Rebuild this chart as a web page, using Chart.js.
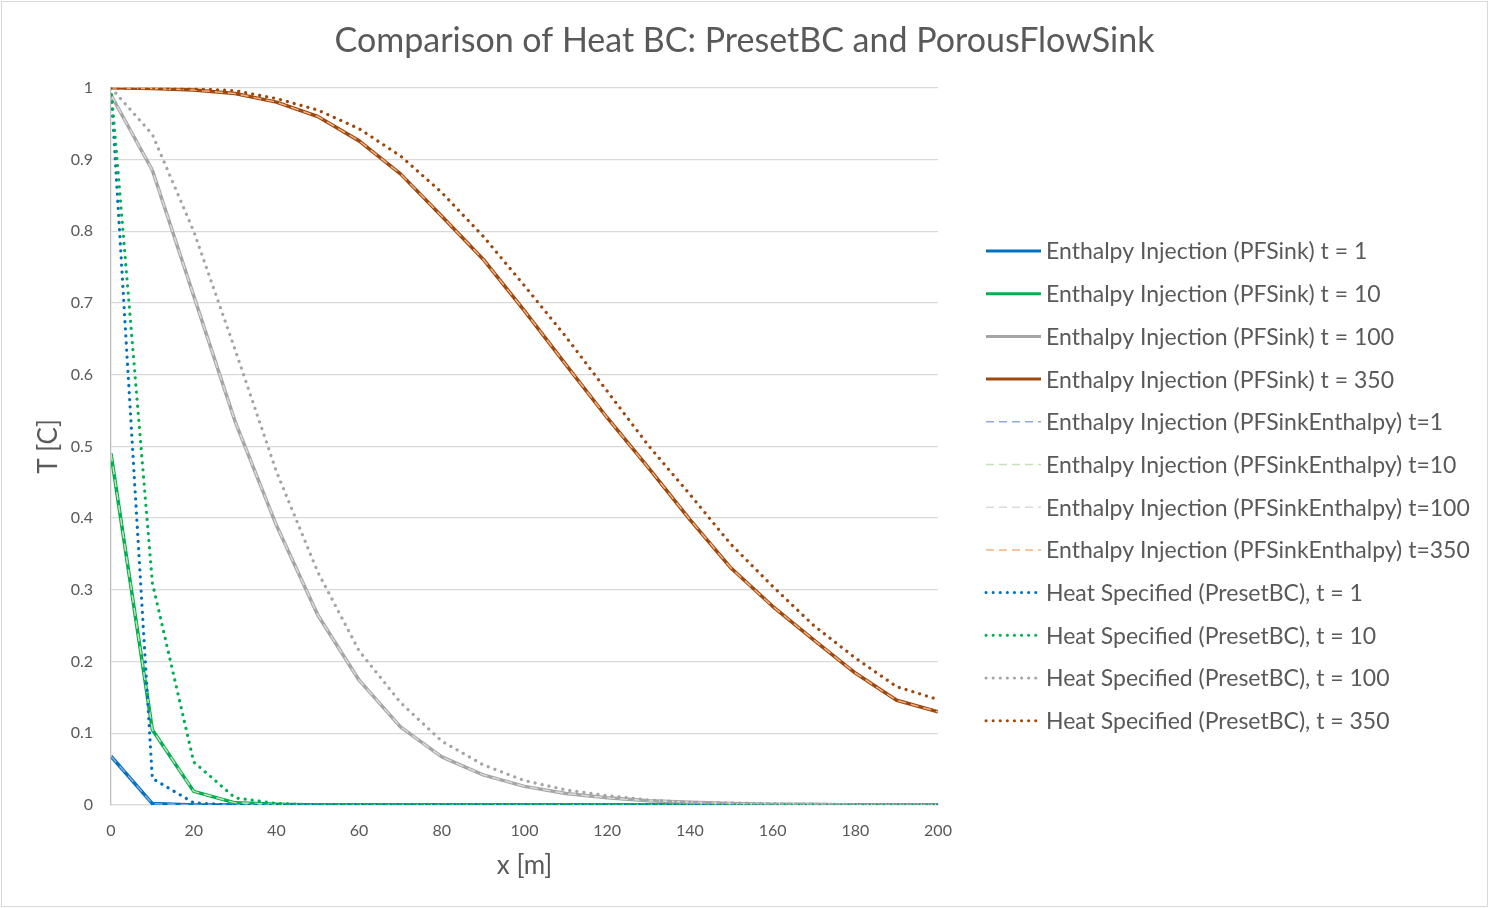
<!DOCTYPE html>
<html>
<head>
<meta charset="utf-8">
<title>Comparison of Heat BC</title>
<script src="https://cdn.jsdelivr.net/npm/chart.js@4.4.0/dist/chart.umd.min.js"></script>
<style>
  html, body { margin: 0; padding: 0; background: #ffffff; }
  #wrap { width: 1489px; height: 908px; }
</style>
</head>
<body>
<div id="wrap"><canvas id="heatChart" width="1489" height="908"></canvas></div>
<script>
"use strict";

// x positions along the column [m]
const xValues = [0, 10, 20, 30, 40, 50, 60, 70, 80, 90, 100, 110, 120, 130, 140, 150, 160, 170, 180, 190, 200];

// Enthalpy injection, PorousFlowSink
const pfSink1   = [0.068, 0.002, 0, 0, 0, 0, 0, 0, 0, 0, 0, 0, 0, 0, 0, 0, 0, 0, 0, 0, 0];
const pfSink10  = [0.49, 0.105, 0.019, 0.003, 0.001, 0, 0, 0, 0, 0, 0, 0, 0, 0, 0, 0, 0, 0, 0, 0, 0];
const pfSink100 = [0.99, 0.885, 0.71, 0.535, 0.39, 0.265, 0.174, 0.109, 0.067, 0.042, 0.026, 0.016, 0.01, 0.006, 0.004, 0.002, 0.001, 0.001, 0, 0, 0];
const pfSink350 = [1, 0.999, 0.997, 0.992, 0.98, 0.96, 0.926, 0.88, 0.821, 0.761, 0.689, 0.614, 0.54, 0.47, 0.398, 0.33, 0.277, 0.23, 0.184, 0.146, 0.13];

// Enthalpy injection, PFSinkEnthalpy (lies on top of the PFSink curves)
const pfEnth1   = [0.068, 0.002, 0, 0, 0, 0, 0, 0, 0, 0, 0, 0, 0, 0, 0, 0, 0, 0, 0, 0, 0];
const pfEnth10  = [0.49, 0.105, 0.019, 0.003, 0.001, 0, 0, 0, 0, 0, 0, 0, 0, 0, 0, 0, 0, 0, 0, 0, 0];
const pfEnth100 = [0.99, 0.885, 0.71, 0.535, 0.39, 0.265, 0.174, 0.109, 0.067, 0.042, 0.026, 0.016, 0.01, 0.006, 0.004, 0.002, 0.001, 0.001, 0, 0, 0];
const pfEnth350 = [1, 0.999, 0.997, 0.992, 0.98, 0.96, 0.926, 0.88, 0.821, 0.761, 0.689, 0.614, 0.54, 0.47, 0.398, 0.33, 0.277, 0.23, 0.184, 0.146, 0.13];

// Heat specified, PresetBC
const preset1   = [1, 0.037, 0.003, 0, 0, 0, 0, 0, 0, 0, 0, 0, 0, 0, 0, 0, 0, 0, 0, 0, 0];
const preset10  = [1, 0.31, 0.06, 0.01, 0.002, 0, 0, 0, 0, 0, 0, 0, 0, 0, 0, 0, 0, 0, 0, 0, 0];
const preset100 = [1, 0.935, 0.8, 0.635, 0.465, 0.325, 0.215, 0.143, 0.089, 0.056, 0.034, 0.021, 0.013, 0.007, 0.004, 0.003, 0.002, 0.001, 0, 0, 0];
const preset350 = [1, 1, 0.999, 0.996, 0.985, 0.969, 0.943, 0.905, 0.854, 0.793, 0.724, 0.653, 0.577, 0.501, 0.433, 0.363, 0.305, 0.25, 0.205, 0.165, 0.147];

const seriesLabels = [
  "Enthalpy Injection (PFSink) t = 1",
  "Enthalpy Injection (PFSink) t = 10",
  "Enthalpy Injection (PFSink) t = 100",
  "Enthalpy Injection (PFSink) t = 350",
  "Enthalpy Injection (PFSinkEnthalpy) t=1",
  "Enthalpy Injection (PFSinkEnthalpy) t=10",
  "Enthalpy Injection (PFSinkEnthalpy) t=100",
  "Enthalpy Injection (PFSinkEnthalpy) t=350",
  "Heat Specified (PresetBC), t = 1",
  "Heat Specified (PresetBC), t = 10",
  "Heat Specified (PresetBC), t = 100",
  "Heat Specified (PresetBC), t = 350"
];
const seriesValues = [pfSink1, pfSink10, pfSink100, pfSink350,
                      pfEnth1, pfEnth10, pfEnth100, pfEnth350,
                      preset1, preset10, preset100, preset350];

const xTickStep = 20;
const yTickStep = 0.1;

// Colours and line styles
const FONT = "Lato, 'Noto Sans', sans-serif";
const TEXT_GREY = "#595959";
const solidColours  = ["#0070C0", "#00B050", "#A5A5A5", "#9E480E"];
const dashedColours = ["#8FAADC", "#C5E0B4", "#DBDBDB", "#F4B183"];
const dottedColours = ["#0070C0", "#00B050", "#A5A5A5", "#9E480E"];

function makeStyle(i) {
  const group = Math.floor(i / 4);
  const k = i % 4;
  if (group === 0) {
    return { borderColor: solidColours[k], borderWidth: 3.5, borderDash: [], borderCapStyle: "butt" };
  }
  if (group === 1) {
    return { borderColor: dashedColours[k], borderWidth: 1.5, borderDash: [8, 5], borderCapStyle: "butt" };
  }
  return { borderColor: dottedColours[k], borderWidth: 3.2, borderDash: [0.1, 7], borderCapStyle: "round" };
}

const datasets = seriesValues.map(function (vals, i) {
  const st = makeStyle(i);
  return {
    label: seriesLabels[i],
    data: xValues.map(function (x, j) { return { x: x, y: vals[j] }; }),
    borderColor: st.borderColor,
    backgroundColor: st.borderColor,
    borderWidth: st.borderWidth,
    borderDash: st.borderDash,
    borderCapStyle: st.borderCapStyle,
    borderJoinStyle: "round",
    pointRadius: 0,
    tension: 0,
    fill: false,
    // later series are drawn over earlier ones
    order: seriesValues.length - i
  };
});

// Legend drawn as line samples, in series order
const lineLegend = {
  id: "lineLegend",
  afterDraw(chart) {
    const ctx = chart.ctx;
    const startX = 986;
    const sampleLen = 55;
    const firstY = 251;
    const stepY = 42.7;
    ctx.save();
    ctx.font = "23px " + FONT;
    ctx.fillStyle = TEXT_GREY;
    ctx.textBaseline = "middle";
    chart.data.datasets.forEach(function (ds, i) {
      const y = firstY + i * stepY;
      ctx.strokeStyle = ds.borderColor;
      ctx.lineWidth = Math.min(ds.borderWidth, 3);
      ctx.lineCap = ds.borderCapStyle;
      ctx.setLineDash(ds.borderDash);
      ctx.beginPath();
      ctx.moveTo(startX, y);
      ctx.lineTo(startX + sampleLen, y);
      ctx.stroke();
      ctx.setLineDash([]);
      ctx.fillText(ds.label, startX + sampleLen + 5, y + 1);
    });
    ctx.restore();
  }
};

// thin frame round the whole chart, title centred on the full width
const frame = {
  id: "frame",
  afterLayout(chart) {
    const t = chart.titleBlock;
    if (t) {
      t.left = 0;
      t.right = chart.width;
      t.width = chart.width;
    }
  },
  beforeDraw(chart) {
    const ctx = chart.ctx;
    ctx.save();
    ctx.fillStyle = "#ffffff";
    ctx.fillRect(0, 0, chart.width, chart.height);
    ctx.strokeStyle = "#D9D9D9";
    ctx.lineWidth = 1;
    ctx.strokeRect(1.5, 1.5, chart.width - 3, chart.height - 3);
    ctx.restore();
  }
};

const ctx = document.getElementById("heatChart").getContext("2d");
const heatChart = new Chart(ctx, {
  type: "line",
  data: { datasets: datasets },
  options: {
    responsive: false,
    animation: false,
    devicePixelRatio: 1,
    layout: { padding: { left: 0, right: 551, top: 0, bottom: 0 } },
    plugins: {
      legend: { display: false },
      tooltip: { enabled: false },
      title: {
        display: true,
        text: "Comparison of Heat BC: PresetBC and PorousFlowSink",
        color: TEXT_GREY,
        font: { family: FONT, size: 34, weight: "normal" },
        padding: { top: 21, bottom: 26 }
      }
    },
    scales: {
      x: {
        type: "linear",
        min: 0,
        max: 200,
        afterFit(scale) { scale.height = 103; },
        ticks: {
          stepSize: xTickStep,
          color: TEXT_GREY,
          padding: 16,
          font: { family: FONT, size: 16 },
          maxRotation: 0
        },
        grid: { display: false, drawTicks: false },
        border: { display: true, color: "#D9D9D9", width: 1.3 },
        title: {
          display: true,
          text: "x [m]",
          color: TEXT_GREY,
          font: { family: FONT, size: 26 },
          padding: { top: 0, bottom: 27 }
        }
      },
      y: {
        min: 0,
        max: 1,
        afterFit(scale) { scale.width = 111; },
        ticks: {
          stepSize: yTickStep,
          color: TEXT_GREY,
          padding: 18,
          font: { family: FONT, size: 16 },
          callback: function (value) { return String(Number(value.toFixed(1))); }
        },
        grid: { color: "#D9D9D9", lineWidth: 1.3, drawTicks: false },
        border: { display: true, color: "#BFBFBF", width: 1.3 },
        title: {
          display: true,
          text: "T [C]",
          color: TEXT_GREY,
          font: { family: FONT, size: 26 },
          padding: { top: 33, bottom: 0 }
        }
      }
    }
  },
  plugins: [frame, lineLegend]
});
</script>
</body>
</html>
